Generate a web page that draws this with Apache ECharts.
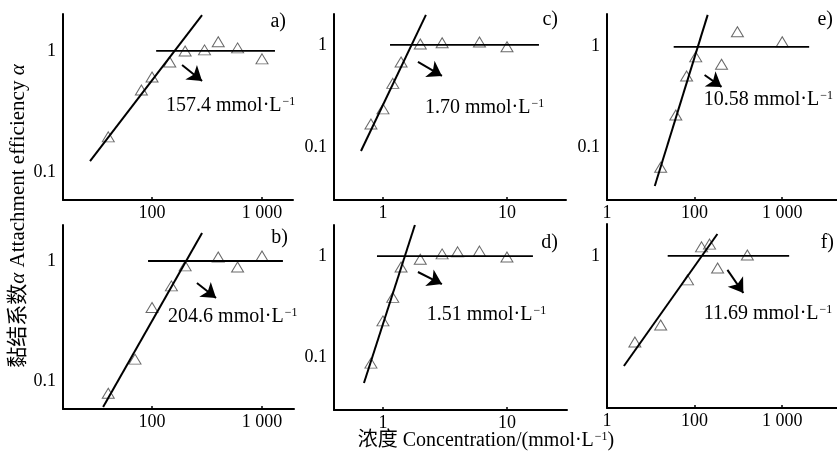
<!DOCTYPE html>
<html>
<head>
<meta charset="utf-8">
<script src="https://cdn.jsdelivr.net/npm/echarts@6/dist/echarts.min.js"></script>
<style>
html, body { margin: 0; padding: 0; background: #fff; }
#chart { width: 837px; height: 454px; }
</style>
</head>
<body>
<div id="chart"></div>
<script>
// a) 
var aConc = [40, 80, 100, 145, 200, 300, 400, 600, 1000];
var aAlpha = [0.195, 0.476, 0.61, 0.81, 1.0, 1.02, 1.19, 1.06, 0.86];
var aFitX = [27.3, 285], aFitY = [0.123, 1.98];
var aFlatX = [109, 1312], aFlatY = [1, 1];
// b)
var bConc = [40, 70, 100, 150, 200, 400, 600, 1000];
var bAlpha = [0.079, 0.152, 0.41, 0.62, 0.91, 1.08, 0.89, 1.1];
var bFitX = [35.9, 285], bFitY = [0.0607, 1.71];
var bFlatX = [92, 1550], bFlatY = [1, 1];
// c)
var cConc = [0.8, 1.0, 1.2, 1.4, 2, 3, 6, 10];
var cAlpha = [0.168, 0.236, 0.42, 0.68, 1.02, 1.05, 1.07, 0.96];
var cFitX = [0.665, 2.22], cFitY = [0.0912, 1.97];
var cFlatX = [1.14, 18.1], cFlatY = [1, 1];
// d)
var dConc = [0.8, 1.0, 1.2, 1.4, 2, 3, 4, 6, 10];
var dAlpha = [0.087, 0.228, 0.39, 0.78, 0.93, 1.05, 1.1, 1.12, 0.98];
var dFitX = [0.703, 1.81], dFitY = [0.0553, 2.03];
var dFlatX = [0.895, 16.2], dFlatY = [1, 1];
// e)
var eConc = [4.1, 6.1, 8.1, 10.3, 20.3, 30.8, 100];
var eAlpha = [0.063, 0.207, 0.505, 0.78, 0.66, 1.38, 1.1];
var eFitX = [3.51, 14.1], eFitY = [0.0411, 2.03];
var eFlatX = [5.77, 203], eFlatY = [0.98, 0.98];
// f)
var fConc = [2.08, 4.1, 8.3, 12, 14.8, 18.3, 40];
var fAlpha = [0.141, 0.207, 0.58, 1.23, 1.31, 0.76, 1.02];
var fFitX = [1.56, 18.2], fFitY = [0.0814, 1.65];
var fFlatX = [4.93, 120], fFlatY = [1, 1];

// critical concentrations (annotation text)
var ccc = ['157.4', '204.6', '1.70', '1.51', '10.58', '11.69'];
var tags = ['a)', 'b)', 'c)', 'd)', 'e)', 'f)'];

// tick values and the labels printed at them
var xTicksAB = [100, 1000], xLabelsAB = ['100', '1 000'];
var xTicksCD = [1, 10], xLabelsCD = ['1', '10'];
var xTicksEF = [1, 10, 100], xLabelsEF = ['1', '100', '1 000'];
var yTicks = [0.1, 1], yLabels = ['0.1', '1'];
var yTicksF = [1], yLabelsF = ['1'];

var FONT = "'Liberation Serif', 'Times New Roman', 'Noto Sans CJK SC', serif";

var zip = function(xs, ys) {
    var out = [];
    for (var i = 0; i < xs.length; i++) {
        out.push([xs[i], ys[i]]);
    }
    return out;
};

var labelFor = function(ticks, labels) {
    return function(v) {
        for (var i = 0; i < ticks.length; i++) {
            if (Math.abs(ticks[i] - v) / ticks[i] < 1e-6) {
                return labels[i];
            }
        }
        return '';
    };
};

var panels = [
    {grid: {left: 63, top: 14, width: 230, height: 186}, xr: [15.5, 1914], yr: [0.0587, 2.02],
        xt: xTicksAB, xl: xLabelsAB, yt: yTicks, yl: yLabels,
        pts: zip(aConc, aAlpha), fit: zip(aFitX, aFitY), flat: zip(aFlatX, aFlatY),
        arrow: [[187.5, 0.766], [285, 0.565]], text: [134, 0.351], tag: [286, 22]},
    {grid: {left: 63, top: 225, width: 231, height: 184}, xr: [15.5, 1955], yr: [0.0584, 1.995],
        xt: xTicksAB, xl: xLabelsAB, yt: yTicks, yl: yLabels,
        pts: zip(bConc, bAlpha), fit: zip(bFitX, bFitY), flat: zip(bFlatX, bFlatY),
        arrow: [[256, 0.656], [382, 0.492]], text: [140, 0.341], tag: [288, 238]},
    {grid: {left: 334, top: 14, width: 232, height: 186}, xr: [0.403, 29.9], yr: [0.0302, 2.01],
        xt: xTicksCD, xl: xLabelsCD, yt: yTicks, yl: yLabels,
        pts: zip(cConc, cAlpha), fit: zip(cFitX, cFitY), flat: zip(cFlatX, cFlatY),
        arrow: [[1.915, 0.681], [2.99, 0.497]], text: [2.18, 0.241], tag: [558, 20]},
    {grid: {left: 334, top: 225, width: 233, height: 185}, xr: [0.403, 30.5], yr: [0.0299, 2.03],
        xt: xTicksCD, xl: xLabelsCD, yt: yTicks, yl: yLabels,
        pts: zip(dConc, dAlpha), fit: zip(dFitX, dFitY), flat: zip(dFlatX, dFlatY),
        arrow: [[1.915, 0.695], [2.99, 0.528]], text: [2.26, 0.26], tag: [558, 243]},
    {grid: {left: 607, top: 14, width: 230, height: 186}, xr: [1, 422], yr: [0.0299, 2.07],
        xt: xTicksEF, xl: xLabelsEF, yt: yTicks, yl: yLabels,
        pts: zip(eConc, eAlpha), fit: zip(eFitX, eFitY), flat: zip(eFlatX, eFlatY),
        arrow: [[13.0, 0.516], [20.3, 0.393]], text: [12.7, 0.292], tag: [833, 20]},
    {grid: {left: 607, top: 224, width: 230, height: 184}, xr: [1, 422], yr: [0.0313, 2.07],
        xt: xTicksEF, xl: xLabelsEF, yt: yTicksF, yl: yLabelsF,
        pts: zip(fConc, fAlpha), fit: zip(fFitX, fFitY), flat: zip(fFlatX, fFlatY),
        arrow: [[23.7, 0.727], [36.0, 0.43]], text: [12.7, 0.267], tag: [834, 243]}
];

var richUnit = {
    n: {fontFamily: FONT, fontSize: 20, color: '#000'},
    s: {fontFamily: FONT, fontSize: 12, color: '#000', verticalAlign: 'top', padding: [0, 0, 8, 1]}
};

var grids = [], xAxes = [], yAxes = [], series = [], graphics = [];

panels.forEach(function(p, i) {
    grids.push(p.grid);
    xAxes.push({
        type: 'log', logBase: 10, gridIndex: i, min: p.xr[0], max: p.xr[1],
        axisLine: {lineStyle: {color: '#000', width: 2}},
        axisTick: {show: true, inside: true, length: 3, customValues: p.xt, lineStyle: {color: '#000', width: 1.5}},
        axisLabel: {customValues: p.xt, formatter: labelFor(p.xt, p.xl), color: '#000', fontFamily: FONT, fontSize: 18, margin: 4},
        splitLine: {show: false}
    });
    yAxes.push({
        type: 'log', logBase: 10, gridIndex: i, min: p.yr[0], max: p.yr[1],
        axisLine: {show: true, lineStyle: {color: '#000', width: 2}},
        axisTick: {show: false},
        axisLabel: {customValues: p.yt, formatter: labelFor(p.yt, p.yl), color: '#000', fontFamily: FONT, fontSize: 18, margin: 7},
        splitLine: {show: false}
    });
    series.push({
        type: 'line', xAxisIndex: i, yAxisIndex: i, data: p.fit, symbol: 'none',
        lineStyle: {color: '#000', width: 2}, silent: true
    });
    series.push({
        type: 'line', xAxisIndex: i, yAxisIndex: i, data: p.flat, symbol: 'none',
        lineStyle: {color: '#000', width: 1.8}, silent: true,
        markLine: {
            silent: true, symbol: ['none', 'arrow'], symbolSize: 14,
            lineStyle: {color: '#000', width: 2, type: 'solid'},
            label: {show: false},
            data: [[{coord: p.arrow[0]}, {coord: p.arrow[1]}]]
        },
        markPoint: {
            silent: true, symbol: 'circle', symbolSize: 0,
            label: {
                show: true, position: 'right', distance: 0,
                formatter: '{n|' + ccc[i] + ' mmol·L}{s|−1}', rich: richUnit
            },
            data: [{coord: p.text}]
        }
    });
    series.push({
        type: 'scatter', xAxisIndex: i, yAxisIndex: i, data: p.pts,
        symbol: 'triangle', symbolSize: [12, 10],
        itemStyle: {color: 'rgba(255,255,255,0)', borderColor: '#444', borderWidth: 1}
    });
    graphics.push({
        type: 'text', x: p.tag[0], y: p.tag[1],
        style: {text: tags[i], fontFamily: FONT, fontSize: 20, fill: '#000', align: 'right', verticalAlign: 'middle'}
    });
});

graphics.push({
    type: 'text', x: 486, y: 441,
    style: {
        text: '{n|浓度 Concentration/(mmol·L}{s|−1}{n|)}', align: 'center', verticalAlign: 'middle',
        rich: richUnit
    }
});
graphics.push({
    type: 'text', x: 18, y: 216, rotation: Math.PI / 2,
    style: {
        text: '{n|黏结系数}{i|α}{n| Attachment efficiency }{i|α}', align: 'center', verticalAlign: 'middle',
        rich: {
            n: {fontFamily: FONT, fontSize: 21, color: '#000'},
            i: {fontFamily: FONT, fontSize: 21, fontStyle: 'italic', color: '#000'}
        }
    }
});

var chart = echarts.init(document.getElementById('chart'));
chart.setOption({
    animation: false,
    backgroundColor: '#fff',
    grid: grids,
    xAxis: xAxes,
    yAxis: yAxes,
    series: series,
    graphic: graphics
});
</script>
</body>
</html>
